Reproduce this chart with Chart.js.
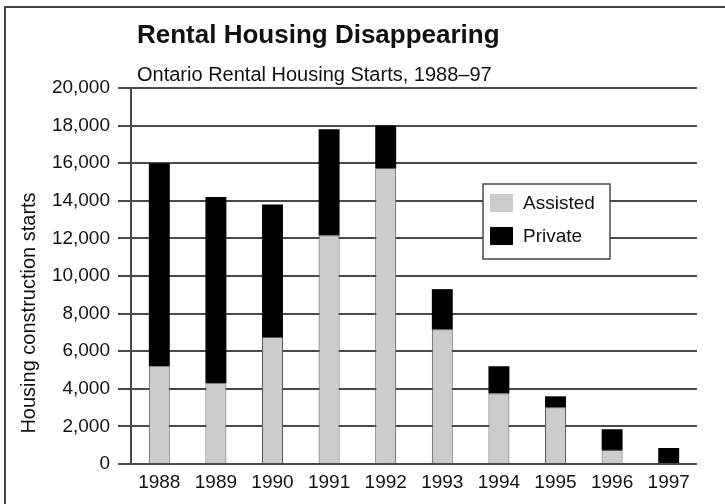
<!DOCTYPE html>
<html>
<head>
<meta charset="utf-8">
<script src="https://cdn.jsdelivr.net/npm/chart.js@4.4.1/dist/chart.umd.min.js"></script>
<style>
  html, body { margin: 0; padding: 0; width: 725px; height: 504px; overflow: hidden; background: #fff; }
  #frame { position: absolute; left: 4px; top: 6px; width: 800px; height: 600px;
           border-left: 2px solid #444; border-top: 2px solid #444; }
  #wrap { position: absolute; left: 0; top: 0; width: 725px; height: 504px; }
</style>
</head>
<body>
<div id="frame"></div>
<div id="wrap"><canvas id="chart" width="725" height="504"></canvas></div>
<script>
const years = ["1988", "1989", "1990", "1991", "1992", "1993", "1994", "1995", "1996", "1997"];
const assisted = [5200, 4300, 6750, 12150, 15750, 7150, 3750, 3000, 750, 0];
const privateStarts = [10800, 9900, 7050, 5650, 2250, 2150, 1450, 600, 1100, 850];

const titleText = "Rental Housing Disappearing";
const subtitleText = "Ontario Rental Housing Starts, 1988\u201397";
const yAxisLabel = "Housing construction starts";

const FONT = "'Liberation Sans', Arial, sans-serif";
const ink = "#111";
const lineGrey = "#4a4a4a";

// headings and rotated axis label, drawn straight on the canvas
const textPlugin = {
    id: "textPlugin",
    afterDraw: (chart) => {
        const ctx = chart.ctx;
        ctx.save();
        ctx.fillStyle = ink;
        ctx.textAlign = "left";
        ctx.textBaseline = "alphabetic";
        ctx.font = "bold 26px " + FONT;
        ctx.fillText(titleText, 137, 43);
        ctx.font = "20px " + FONT;
        ctx.fillText(subtitleText, 137, 81);

        ctx.translate(35, 313);
        ctx.rotate(-Math.PI / 2);
        ctx.textAlign = "center";
        ctx.font = "20px " + FONT;
        ctx.fillText(yAxisLabel, 0, 0);
        ctx.restore();
    }
};

// boxed legend sitting over the grid
const legendPlugin = {
    id: "legendPlugin",
    afterDraw: (chart) => {
        const ctx = chart.ctx;
        ctx.save();
        ctx.fillStyle = "#fff";
        ctx.fillRect(483, 184, 127, 75);
        ctx.strokeStyle = lineGrey;
        ctx.lineWidth = 1.5;
        ctx.strokeRect(483, 184, 127, 75);

        ctx.font = "19px " + FONT;
        ctx.textAlign = "left";
        ctx.textBaseline = "middle";
        chart.data.datasets.forEach((ds, i) => {
            const y = 194 + i * 33;
            ctx.fillStyle = ds.backgroundColor;
            ctx.fillRect(490, y, 23, 18);
            ctx.fillStyle = ink;
            ctx.fillText(ds.label, 523, y + 10);
        });
        ctx.restore();
    }
};

new Chart(document.getElementById("chart").getContext("2d"), {
    type: "bar",
    data: {
        labels: years,
        datasets: [
            { label: "Assisted", data: assisted, backgroundColor: "#cccccc", borderColor: "#555", borderWidth: 1,
              barPercentage: 0.37, categoryPercentage: 1 },
            { label: "Private", data: privateStarts, backgroundColor: "#000000", borderColor: "#000", borderWidth: 0,
              barPercentage: 0.37, categoryPercentage: 1 }
        ]
    },
    plugins: [textPlugin, legendPlugin],
    options: {
        responsive: false,
        animation: false,
        layout: { padding: { left: 0, top: 88, right: 28, bottom: 0 } },
        plugins: { legend: { display: false }, tooltip: { enabled: false }, title: { display: false } },
        scales: {
            x: {
                stacked: true,
                grid: { display: false, drawTicks: false },
                border: { display: false },
                ticks: { color: ink, font: { family: FONT, size: 19 }, padding: 7, maxRotation: 0 },
                afterFit: (s) => { s.height = 40; }
            },
            y: {
                stacked: true,
                min: 0,
                max: 20000,
                grid: { color: lineGrey, lineWidth: 2, drawTicks: true, tickLength: 13 },
                border: { display: true, color: lineGrey, width: 2 },
                ticks: {
                    stepSize: 2000,
                    color: ink,
                    font: { family: FONT, size: 19 },
                    padding: 8,
                    callback: (v) => v.toLocaleString("en-US")
                },
                afterFit: (s) => { s.width = 131; }
            }
        }
    }
});
</script>
</body>
</html>
